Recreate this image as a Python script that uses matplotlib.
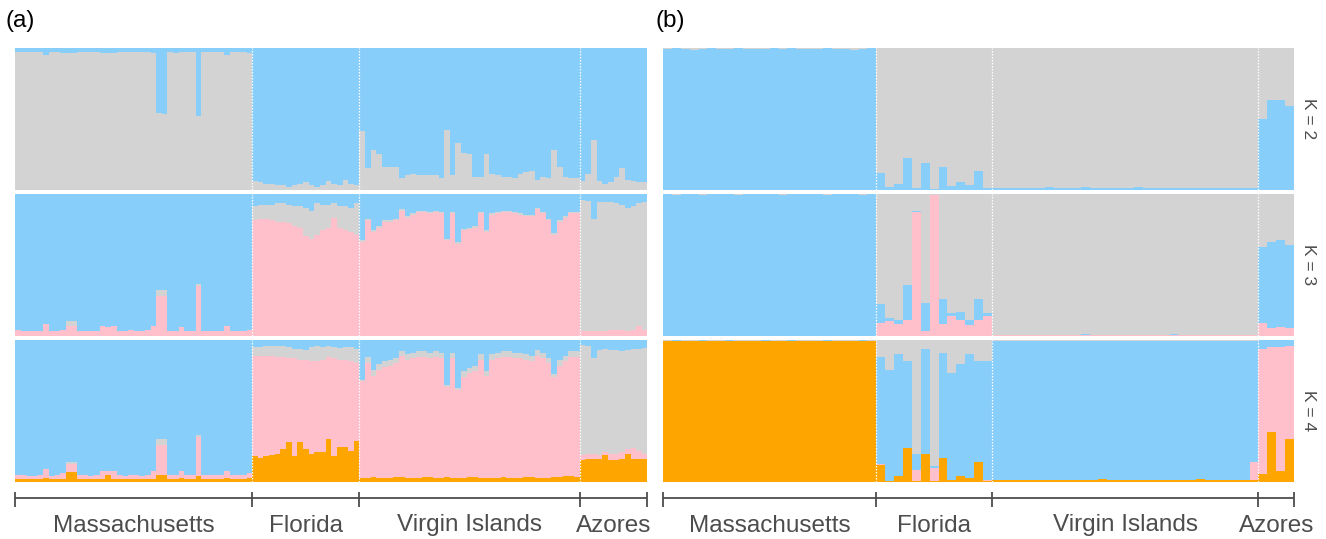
import numpy as np
import matplotlib
matplotlib.use('Agg')
import matplotlib.pyplot as plt

plt.rcParams['font.family'] = ['Liberation Sans', 'DejaVu Sans']

GRAY, BLUE, PINK, ORANGE = '#D3D3D3', '#87CEFA', '#FFC0CB', '#FFA500'
TXT = '#4D4D4D'

pops = ['Massachusetts', 'Florida', 'Virgin Islands', 'Azores']
a_sizes = [42, 19, 39, 12]
b_sizes = [24, 13, 30, 4]
k_labels = ['K = 2', 'K = 3', 'K = 4']

# ── panel (a): cumulative top of each layer (last colour fills up to 1) ──
# K=2: gray, blue
a_k2_gray = [
    0.97, 0.97, 0.97, 0.97, 0.97, 0.95, 0.97, 0.97, 0.96, 0.96, 0.96, 0.97, 0.97, 0.97,
    0.97, 0.96, 0.96, 0.96, 0.97, 0.97, 0.97, 0.97, 0.97, 0.97, 0.96, 0.54, 0.53, 0.97,
    0.96, 0.97, 0.97, 0.97, 0.52, 0.97, 0.97, 0.97, 0.97, 0.95, 0.97, 0.97, 0.97, 0.96,
    0.06, 0.05, 0.04, 0.04, 0.03, 0.03, 0.02, 0.03, 0.04, 0.05, 0.03, 0.02, 0.03, 0.06,
    0.04, 0.03, 0.07, 0.04, 0.03,
    0.41, 0.15, 0.28, 0.25, 0.16, 0.16, 0.16, 0.08, 0.10, 0.11, 0.10, 0.10, 0.10, 0.10,
    0.08, 0.42, 0.10, 0.33, 0.26, 0.25, 0.09, 0.09, 0.25, 0.11, 0.10, 0.09, 0.09, 0.08,
    0.11, 0.12, 0.13, 0.07, 0.09, 0.08, 0.28, 0.16, 0.09, 0.08, 0.08,
    0.06, 0.11, 0.35, 0.06, 0.04, 0.05, 0.09, 0.15, 0.07, 0.06, 0.05, 0.05,
]

# K=3: pink, gray, blue
a_k3_pink = [
    0.04, 0.03, 0.03, 0.03, 0.03, 0.08, 0.03, 0.03, 0.04, 0.07, 0.07, 0.03, 0.03, 0.03,
    0.03, 0.07, 0.06, 0.07, 0.03, 0.03, 0.04, 0.03, 0.03, 0.04, 0.07, 0.28, 0.28, 0.03,
    0.03, 0.06, 0.03, 0.03, 0.35, 0.03, 0.03, 0.03, 0.03, 0.07, 0.03, 0.03, 0.03, 0.04,
    0.81, 0.82, 0.82, 0.81, 0.80, 0.80, 0.79, 0.77, 0.76, 0.70, 0.68, 0.71, 0.74, 0.76,
    0.83, 0.76, 0.74, 0.73, 0.71,
    0.66, 0.81, 0.73, 0.76, 0.80, 0.80, 0.81, 0.88, 0.83, 0.85, 0.87, 0.87, 0.86, 0.87,
    0.86, 0.67, 0.86, 0.645, 0.74, 0.75, 0.76, 0.86, 0.73, 0.85, 0.86, 0.87, 0.87, 0.86,
    0.85, 0.84, 0.84, 0.89, 0.86, 0.81, 0.71, 0.80, 0.83, 0.86, 0.86,
    0.03, 0.03, 0.03, 0.03, 0.03, 0.04, 0.04, 0.04, 0.03, 0.04, 0.07, 0.04,
]
a_k3_gray = [
    0.04, 0.03, 0.03, 0.03, 0.03, 0.08, 0.03, 0.03, 0.04, 0.10, 0.10, 0.03, 0.03, 0.03,
    0.03, 0.07, 0.06, 0.07, 0.03, 0.03, 0.04, 0.03, 0.03, 0.04, 0.07, 0.32, 0.32, 0.03,
    0.03, 0.06, 0.03, 0.03, 0.36, 0.03, 0.03, 0.03, 0.03, 0.07, 0.03, 0.03, 0.03, 0.04,
    0.91, 0.92, 0.92, 0.92, 0.93, 0.93, 0.92, 0.91, 0.91, 0.90, 0.88, 0.93, 0.92, 0.92,
    0.93, 0.91, 0.91, 0.90, 0.93,
    0.67, 0.82, 0.74, 0.77, 0.81, 0.81, 0.82, 0.89, 0.84, 0.86, 0.88, 0.88, 0.87, 0.88,
    0.87, 0.68, 0.87, 0.655, 0.75, 0.76, 0.77, 0.87, 0.74, 0.86, 0.87, 0.88, 0.88, 0.87,
    0.86, 0.85, 0.85, 0.90, 0.87, 0.82, 0.72, 0.81, 0.84, 0.87, 0.87,
    0.955, 0.95, 0.82, 0.94, 0.94, 0.94, 0.93, 0.92, 0.90, 0.91, 0.93, 0.94,
]

# K=4: orange, pink, gray, blue
a_k4_orange = [
    0.02, 0.02, 0.02, 0.02, 0.02, 0.03, 0.02, 0.02, 0.02, 0.07, 0.07, 0.02, 0.02, 0.02,
    0.02, 0.02, 0.05, 0.02, 0.02, 0.02, 0.02, 0.02, 0.02, 0.02, 0.02, 0.05, 0.05, 0.02,
    0.02, 0.03, 0.02, 0.02, 0.04, 0.02, 0.02, 0.02, 0.02, 0.025, 0.02, 0.02, 0.02, 0.025,
    0.185, 0.17, 0.18, 0.19, 0.20, 0.23, 0.28, 0.18, 0.28, 0.23, 0.20, 0.21, 0.21, 0.30,
    0.18, 0.25, 0.25, 0.22, 0.29,
    0.03, 0.03, 0.035, 0.03, 0.03, 0.03, 0.035, 0.035, 0.03, 0.03, 0.03, 0.035, 0.035, 0.03,
    0.03, 0.035, 0.03, 0.03, 0.03, 0.035, 0.035, 0.03, 0.03, 0.03, 0.03, 0.035, 0.03, 0.03,
    0.03, 0.035, 0.035, 0.03, 0.03, 0.03, 0.035, 0.035, 0.04, 0.04, 0.035,
    0.155, 0.16, 0.16, 0.16, 0.19, 0.155, 0.155, 0.16, 0.195, 0.16, 0.16, 0.16,
]
a_k4_pink = [
    0.05, 0.05, 0.04, 0.04, 0.05, 0.09, 0.04, 0.05, 0.06, 0.13, 0.13, 0.05, 0.05, 0.04,
    0.05, 0.08, 0.08, 0.08, 0.05, 0.04, 0.05, 0.05, 0.04, 0.05, 0.08, 0.26, 0.26, 0.05,
    0.05, 0.08, 0.05, 0.05, 0.32, 0.05, 0.05, 0.05, 0.05, 0.08, 0.05, 0.05, 0.05, 0.06,
    0.89, 0.89, 0.89, 0.885, 0.88, 0.88, 0.87, 0.87, 0.86, 0.86, 0.85, 0.85, 0.86, 0.88,
    0.87, 0.86, 0.86, 0.85, 0.84,
    0.71, 0.835, 0.75, 0.79, 0.81, 0.82, 0.835, 0.89, 0.86, 0.87, 0.88, 0.88, 0.87, 0.88,
    0.87, 0.67, 0.87, 0.65, 0.74, 0.765, 0.78, 0.86, 0.75, 0.86, 0.87, 0.88, 0.88, 0.87,
    0.87, 0.86, 0.85, 0.89, 0.87, 0.835, 0.74, 0.82, 0.85, 0.88, 0.88,
    0.19, 0.20, 0.20, 0.19, 0.21, 0.20, 0.20, 0.21, 0.23, 0.24, 0.22, 0.20,
]
a_k4_gray = [
    0.05, 0.05, 0.04, 0.04, 0.05, 0.09, 0.04, 0.05, 0.06, 0.14, 0.14, 0.05, 0.05, 0.04,
    0.05, 0.08, 0.08, 0.08, 0.05, 0.04, 0.05, 0.05, 0.04, 0.05, 0.08, 0.30, 0.30, 0.05,
    0.05, 0.08, 0.05, 0.05, 0.33, 0.05, 0.05, 0.05, 0.05, 0.08, 0.05, 0.05, 0.05, 0.06,
    0.95, 0.95, 0.955, 0.96, 0.96, 0.955, 0.95, 0.94, 0.94, 0.93, 0.95, 0.955, 0.95, 0.955,
    0.95, 0.945, 0.95, 0.95, 0.94,
    0.72, 0.88, 0.79, 0.83, 0.85, 0.86, 0.87, 0.92, 0.90, 0.91, 0.92, 0.92, 0.91, 0.92,
    0.91, 0.68, 0.91, 0.66, 0.78, 0.80, 0.82, 0.90, 0.78, 0.90, 0.91, 0.92, 0.92, 0.91,
    0.91, 0.90, 0.89, 0.93, 0.91, 0.87, 0.76, 0.86, 0.89, 0.92, 0.92,
    0.965, 0.955, 0.87, 0.93, 0.935, 0.93, 0.93, 0.925, 0.93, 0.935, 0.94, 0.945,
]

# ── panel (b) ──
# K=2: blue, gray
b_k2_blue = [
    0.99, 0.995, 0.99, 0.985, 0.99, 0.995, 0.99, 0.99, 0.995, 0.99, 0.99, 0.99,
    0.995, 0.99, 0.995, 0.99, 0.99, 0.99, 0.995, 0.99, 0.99, 0.985, 0.99, 0.995,
    0.115, 0.02, 0.04, 0.22, 0.01, 0.19, 0.005, 0.16, 0.025, 0.05, 0.035, 0.13, 0.01,
    0.01, 0.008, 0.012, 0.01, 0.008, 0.01, 0.015, 0.01, 0.008, 0.01, 0.02, 0.012, 0.01, 0.008, 0.01,
    0.012, 0.02, 0.01, 0.008, 0.01, 0.01, 0.008, 0.01, 0.012, 0.01, 0.008, 0.01, 0.01, 0.012, 0.01,
    0.50, 0.63, 0.63, 0.59,
]

# K=3: pink, blue, gray
b_k3_pink = [
    0.0, 0.0, 0.0, 0.0, 0.0, 0.0, 0.0, 0.0, 0.0, 0.0, 0.0, 0.0,
    0.0, 0.0, 0.0, 0.0, 0.0, 0.0, 0.0, 0.0, 0.0, 0.0, 0.0, 0.0,
    0.09, 0.10, 0.08, 0.11, 0.87, 0.03, 0.99, 0.08, 0.135, 0.11, 0.077, 0.11, 0.14,
    0.002, 0.002, 0.003, 0.002, 0.002, 0.002, 0.003, 0.002, 0.002, 0.002, 0.003, 0.002, 0.002, 0.002, 0.002,
    0.003, 0.002, 0.002, 0.002, 0.002, 0.003, 0.002, 0.002, 0.002, 0.002, 0.003, 0.002, 0.002, 0.002, 0.002,
    0.086, 0.05, 0.06, 0.05,
]
b_k3_blue = [
    0.995, 0.99, 0.995, 0.995, 0.99, 0.995, 0.995, 0.995, 0.99, 0.995, 0.995, 0.995,
    0.995, 0.99, 0.995, 0.995, 0.995, 0.995, 0.99, 0.995, 0.995, 0.995, 0.99, 0.995,
    0.22, 0.12, 0.11, 0.355, 0.88, 0.23, 0.99, 0.255, 0.155, 0.165, 0.107, 0.255, 0.155,
    0.005, 0.005, 0.007, 0.005, 0.005, 0.005, 0.007, 0.005, 0.005, 0.005, 0.01, 0.005, 0.005, 0.005, 0.005,
    0.007, 0.005, 0.005, 0.005, 0.005, 0.01, 0.005, 0.005, 0.005, 0.005, 0.007, 0.005, 0.005, 0.005, 0.005,
    0.62, 0.66, 0.67, 0.64,
]

# K=4: orange, pink, blue, gray
b_k4_orange = [
    0.99, 0.995, 0.99, 0.99, 0.995, 0.99, 0.99, 0.995, 0.99, 0.99, 0.99, 0.995,
    0.99, 0.99, 0.995, 0.99, 0.99, 0.99, 0.995, 0.99, 0.99, 0.99, 0.995, 0.99,
    0.12, 0.01, 0.04, 0.24, 0.01, 0.20, 0.01, 0.17, 0.014, 0.045, 0.026, 0.143, 0.01,
    0.014, 0.014, 0.016, 0.014, 0.014, 0.015, 0.014, 0.014, 0.014, 0.016, 0.014, 0.014, 0.02, 0.014, 0.014,
    0.015, 0.014, 0.014, 0.014, 0.016, 0.014, 0.014, 0.014, 0.02, 0.014, 0.014, 0.014, 0.014, 0.014, 0.015,
    0.054, 0.35, 0.08, 0.30,
]
b_k4_pink = [
    0.99, 0.995, 0.99, 0.99, 0.995, 0.99, 0.99, 0.995, 0.99, 0.99, 0.99, 0.995,
    0.99, 0.99, 0.995, 0.99, 0.99, 0.99, 0.995, 0.99, 0.99, 0.99, 0.995, 0.99,
    0.13, 0.01, 0.04, 0.24, 0.085, 0.20, 0.097, 0.17, 0.014, 0.045, 0.03, 0.143, 0.015,
    0.014, 0.014, 0.016, 0.014, 0.014, 0.015, 0.014, 0.014, 0.014, 0.016, 0.014, 0.014, 0.02, 0.014, 0.014,
    0.015, 0.014, 0.014, 0.014, 0.016, 0.014, 0.014, 0.014, 0.02, 0.014, 0.014, 0.014, 0.014, 0.014, 0.14,
    0.94, 0.95, 0.95, 0.955,
]
b_k4_blue = [
    0.995, 0.998, 0.995, 0.995, 0.998, 0.995, 0.995, 0.998, 0.995, 0.995, 0.995, 0.998,
    0.995, 0.995, 0.998, 0.995, 0.995, 0.995, 0.998, 0.995, 0.995, 0.995, 0.998, 0.995,
    0.88, 0.79, 0.90, 0.855, 0.20, 0.94, 0.11, 0.905, 0.77, 0.83, 0.90, 0.85, 0.855,
    0.995, 0.995, 0.995, 0.995, 0.995, 0.995, 0.995, 0.995, 0.995, 0.99, 0.99, 0.99, 0.995, 0.995, 0.995,
    0.995, 0.995, 0.995, 0.995, 0.995, 0.995, 0.995, 0.995, 0.995, 0.995, 0.995, 0.995, 0.995, 0.995, 0.995,
    1.0, 1.0, 1.0, 1.0,
]

panels = {
    'a': dict(sizes=a_sizes, rows=[
        ([a_k2_gray], [GRAY, BLUE]),
        ([a_k3_pink, a_k3_gray], [PINK, GRAY, BLUE]),
        ([a_k4_orange, a_k4_pink, a_k4_gray], [ORANGE, PINK, GRAY, BLUE]),
    ]),
    'b': dict(sizes=b_sizes, rows=[
        ([b_k2_blue], [BLUE, GRAY]),
        ([b_k3_pink, b_k3_blue], [PINK, BLUE, GRAY]),
        ([b_k4_orange, b_k4_pink, b_k4_blue], [ORANGE, PINK, BLUE, GRAY]),
    ]),
}

# ── layout in pixels ──
W, H = 1326, 539
x_span = {'a': (15, 647.5), 'b': (663, 1294)}
row_top = [47.5, 193.5, 340]
row_h = 142


def px_axes(fig, x0, x1, y0, y1):
    return fig.add_axes([x0 / W, 1 - y1 / H, (x1 - x0) / W, (y1 - y0) / H])


fig = plt.figure(figsize=(W / 100, H / 100), dpi=100)

for key, p in panels.items():
    sizes = p['sizes']
    n = sum(sizes)
    edges = np.arange(n + 1)
    bounds = np.cumsum([0] + sizes)
    x0, x1 = x_span[key]

    for r, (tops, colors) in enumerate(p['rows']):
        ax = px_axes(fig, x0, x1, row_top[r], row_top[r] + row_h)
        # one stepped polygon per ancestry layer -> no seams between bars
        prev = np.zeros(n)
        for top, c in zip(tops + [np.ones(n)], colors):
            top = np.asarray(top, dtype=float)
            ax.fill_between(edges, np.append(prev, prev[-1]), np.append(top, top[-1]),
                            step='post', facecolor=c, edgecolor='none', lw=0)
            prev = top
        for b in bounds[1:-1]:
            ax.axvline(b, color='white', lw=0.9, ls=(0, (1.2, 1.2)))
        ax.set_xlim(0, n)
        ax.set_ylim(0, 1)
        ax.axis('off')
        if key == 'b':
            yc = row_top[r] + row_h / 2
            fig.text(1309 / W, 1 - yc / H, k_labels[r], rotation=270,
                     ha='center', va='center', fontsize=12.5, color=TXT)

    # population axis at the bottom
    axb = px_axes(fig, x0, x1, 486, 539)
    axb.set_xlim(0, n)
    axb.set_ylim(539, 486)
    axb.axis('off')
    axb.plot([0, n], [498.3, 498.3], color=TXT, lw=1.3, clip_on=False,
             solid_capstyle='butt')
    axb.vlines(bounds, 491.7, 507.3, color=TXT, lw=1.3, clip_on=False)
    for i, name in enumerate(pops):
        axb.text((bounds[i] + bounds[i + 1]) / 2, 531.5, name, ha='center',
                 va='baseline', fontsize=17.5, color=TXT)

fig.text(20 / W, 1 - 21 / H, '(a)', ha='center', va='center', fontsize=17.5, color='black')
fig.text(670 / W, 1 - 21 / H, '(b)', ha='center', va='center', fontsize=17.5, color='black')

fig.savefig('out.png', dpi=100)
